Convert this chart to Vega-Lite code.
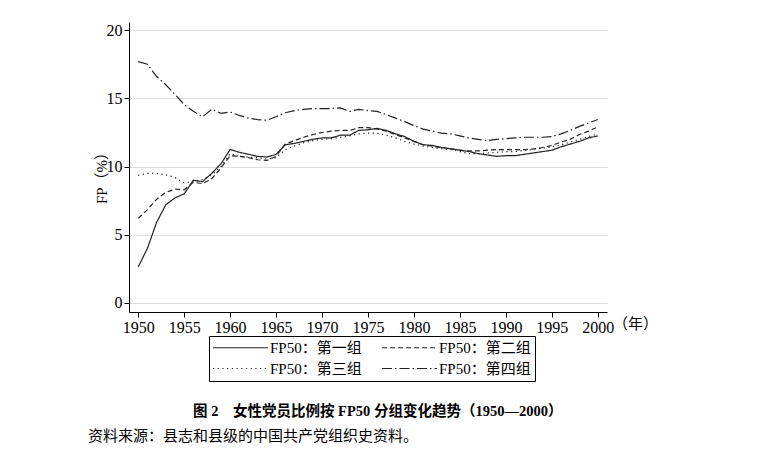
{
  "$schema": "https://vega.github.io/schema/vega-lite/v6.json",
  "width": 478,
  "height": 290,
  "autosize": {"type": "none"},
  "padding": {"left": 129, "top": 22, "right": 155, "bottom": 142},
  "background": "white",
  "config": {"view": {"stroke": null}},
  "title": {
    "text": "\u200b　　　　　　　  图 2　女性党员比例按 FP50 分组变化趋势（1950—2000）",
    "subtitle": "资料来源：县志和县级的中国共产党组织史资料。",
    "orient": "bottom",
    "anchor": "start",
    "frame": "group",
    "align": "left",
    "dx": -41,
    "offset": 23,
    "font": "Liberation Serif, Noto Sans CJK SC",
    "fontSize": 14.5,
    "fontWeight": "bold",
    "color": "black",
    "subtitleFont": "Liberation Serif, Noto Sans CJK SC",
    "subtitleFontSize": 15,
    "subtitleColor": "black",
    "subtitlePadding": 10
  },
  "data": {
    "values": [
      {"year":1950,"group":"FP50：第一组","value":2.64},{"year":1951,"group":"FP50：第一组","value":4.0},{"year":1952,"group":"FP50：第一组","value":5.9},{"year":1953,"group":"FP50：第一组","value":7.2},{"year":1954,"group":"FP50：第一组","value":7.7},{"year":1955,"group":"FP50：第一组","value":8.0},{"year":1956,"group":"FP50：第一组","value":9.0},{"year":1957,"group":"FP50：第一组","value":8.9},{"year":1958,"group":"FP50：第一组","value":9.5},{"year":1959,"group":"FP50：第一组","value":10.2},
      {"year":1960,"group":"FP50：第一组","value":11.25},{"year":1961,"group":"FP50：第一组","value":11.05},{"year":1962,"group":"FP50：第一组","value":10.9},{"year":1963,"group":"FP50：第一组","value":10.75},{"year":1964,"group":"FP50：第一组","value":10.7},{"year":1965,"group":"FP50：第一组","value":10.9},{"year":1966,"group":"FP50：第一组","value":11.6},{"year":1967,"group":"FP50：第一组","value":11.7},{"year":1968,"group":"FP50：第一组","value":11.85},{"year":1969,"group":"FP50：第一组","value":12.0},
      {"year":1970,"group":"FP50：第一组","value":12.1},{"year":1971,"group":"FP50：第一组","value":12.1},{"year":1972,"group":"FP50：第一组","value":12.3},{"year":1973,"group":"FP50：第一组","value":12.3},{"year":1974,"group":"FP50：第一组","value":12.65},{"year":1975,"group":"FP50：第一组","value":12.7},{"year":1976,"group":"FP50：第一组","value":12.8},{"year":1977,"group":"FP50：第一组","value":12.65},{"year":1978,"group":"FP50：第一组","value":12.4},{"year":1979,"group":"FP50：第一组","value":12.2},
      {"year":1980,"group":"FP50：第一组","value":11.85},{"year":1981,"group":"FP50：第一组","value":11.6},{"year":1982,"group":"FP50：第一组","value":11.55},{"year":1983,"group":"FP50：第一组","value":11.4},{"year":1984,"group":"FP50：第一组","value":11.3},{"year":1985,"group":"FP50：第一组","value":11.2},{"year":1986,"group":"FP50：第一组","value":11.1},{"year":1987,"group":"FP50：第一组","value":10.95},{"year":1988,"group":"FP50：第一组","value":10.85},{"year":1989,"group":"FP50：第一组","value":10.75},
      {"year":1990,"group":"FP50：第一组","value":10.8},{"year":1991,"group":"FP50：第一组","value":10.8},{"year":1992,"group":"FP50：第一组","value":10.9},{"year":1993,"group":"FP50：第一组","value":11.0},{"year":1994,"group":"FP50：第一组","value":11.1},{"year":1995,"group":"FP50：第一组","value":11.2},{"year":1996,"group":"FP50：第一组","value":11.45},{"year":1997,"group":"FP50：第一组","value":11.65},{"year":1998,"group":"FP50：第一组","value":11.85},{"year":1999,"group":"FP50：第一组","value":12.1},{"year":2000,"group":"FP50：第一组","value":12.25},

      {"year":1950,"group":"FP50：第二组","value":6.2},{"year":1951,"group":"FP50：第二组","value":6.85},{"year":1952,"group":"FP50：第二组","value":7.6},{"year":1953,"group":"FP50：第二组","value":8.1},{"year":1954,"group":"FP50：第二组","value":8.35},{"year":1955,"group":"FP50：第二组","value":8.3},{"year":1956,"group":"FP50：第二组","value":8.85},{"year":1957,"group":"FP50：第二组","value":8.75},{"year":1958,"group":"FP50：第二组","value":9.1},{"year":1959,"group":"FP50：第二组","value":9.9},
      {"year":1960,"group":"FP50：第二组","value":10.8},{"year":1961,"group":"FP50：第二组","value":10.75},{"year":1962,"group":"FP50：第二组","value":10.65},{"year":1963,"group":"FP50：第二组","value":10.5},{"year":1964,"group":"FP50：第二组","value":10.45},{"year":1965,"group":"FP50：第二组","value":10.75},{"year":1966,"group":"FP50：第二组","value":11.65},{"year":1967,"group":"FP50：第二组","value":11.9},{"year":1968,"group":"FP50：第二组","value":12.15},{"year":1969,"group":"FP50：第二组","value":12.35},
      {"year":1970,"group":"FP50：第二组","value":12.5},{"year":1971,"group":"FP50：第二组","value":12.6},{"year":1972,"group":"FP50：第二组","value":12.65},{"year":1973,"group":"FP50：第二组","value":12.65},{"year":1974,"group":"FP50：第二组","value":12.85},{"year":1975,"group":"FP50：第二组","value":12.85},{"year":1976,"group":"FP50：第二组","value":12.75},{"year":1977,"group":"FP50：第二组","value":12.6},{"year":1978,"group":"FP50：第二组","value":12.35},{"year":1979,"group":"FP50：第二组","value":12.1},
      {"year":1980,"group":"FP50：第二组","value":11.85},{"year":1981,"group":"FP50：第二组","value":11.6},{"year":1982,"group":"FP50：第二组","value":11.5},{"year":1983,"group":"FP50：第二组","value":11.4},{"year":1984,"group":"FP50：第二组","value":11.3},{"year":1985,"group":"FP50：第二组","value":11.2},{"year":1986,"group":"FP50：第二组","value":11.15},{"year":1987,"group":"FP50：第二组","value":11.15},{"year":1988,"group":"FP50：第二组","value":11.2},{"year":1989,"group":"FP50：第二组","value":11.25},
      {"year":1990,"group":"FP50：第二组","value":11.25},{"year":1991,"group":"FP50：第二组","value":11.25},{"year":1992,"group":"FP50：第二组","value":11.25},{"year":1993,"group":"FP50：第二组","value":11.3},{"year":1994,"group":"FP50：第二组","value":11.4},{"year":1995,"group":"FP50：第二组","value":11.55},{"year":1996,"group":"FP50：第二组","value":11.8},{"year":1997,"group":"FP50：第二组","value":12.0},{"year":1998,"group":"FP50：第二组","value":12.35},{"year":1999,"group":"FP50：第二组","value":12.6},{"year":2000,"group":"FP50：第二组","value":12.9},

      {"year":1950,"group":"FP50：第三组","value":9.35},{"year":1951,"group":"FP50：第三组","value":9.5},{"year":1952,"group":"FP50：第三组","value":9.5},{"year":1953,"group":"FP50：第三组","value":9.4},{"year":1954,"group":"FP50：第三组","value":9.2},{"year":1955,"group":"FP50：第三组","value":8.8},{"year":1956,"group":"FP50：第三组","value":8.9},{"year":1957,"group":"FP50：第三组","value":9.05},{"year":1958,"group":"FP50：第三组","value":9.4},{"year":1959,"group":"FP50：第三组","value":10.0},
      {"year":1960,"group":"FP50：第三组","value":10.95},{"year":1961,"group":"FP50：第三组","value":10.75},{"year":1962,"group":"FP50：第三组","value":10.7},{"year":1963,"group":"FP50：第三组","value":10.65},{"year":1964,"group":"FP50：第三组","value":10.55},{"year":1965,"group":"FP50：第三组","value":10.65},{"year":1966,"group":"FP50：第三组","value":11.25},{"year":1967,"group":"FP50：第三组","value":11.5},{"year":1968,"group":"FP50：第三组","value":11.75},{"year":1969,"group":"FP50：第三组","value":11.9},
      {"year":1970,"group":"FP50：第三组","value":12.0},{"year":1971,"group":"FP50：第三组","value":12.05},{"year":1972,"group":"FP50：第三组","value":12.15},{"year":1973,"group":"FP50：第三组","value":12.25},{"year":1974,"group":"FP50：第三组","value":12.4},{"year":1975,"group":"FP50：第三组","value":12.45},{"year":1976,"group":"FP50：第三组","value":12.45},{"year":1977,"group":"FP50：第三组","value":12.3},{"year":1978,"group":"FP50：第三组","value":12.1},{"year":1979,"group":"FP50：第三组","value":11.85},
      {"year":1980,"group":"FP50：第三组","value":11.65},{"year":1981,"group":"FP50：第三组","value":11.5},{"year":1982,"group":"FP50：第三组","value":11.4},{"year":1983,"group":"FP50：第三组","value":11.3},{"year":1984,"group":"FP50：第三组","value":11.25},{"year":1985,"group":"FP50：第三组","value":11.1},{"year":1986,"group":"FP50：第三组","value":10.95},{"year":1987,"group":"FP50：第三组","value":10.95},{"year":1988,"group":"FP50：第三组","value":11.0},{"year":1989,"group":"FP50：第三组","value":11.05},
      {"year":1990,"group":"FP50：第三组","value":11.1},{"year":1991,"group":"FP50：第三组","value":11.1},{"year":1992,"group":"FP50：第三组","value":11.2},{"year":1993,"group":"FP50：第三组","value":11.25},{"year":1994,"group":"FP50：第三组","value":11.35},{"year":1995,"group":"FP50：第三组","value":11.45},{"year":1996,"group":"FP50：第三组","value":11.6},{"year":1997,"group":"FP50：第三组","value":11.8},{"year":1998,"group":"FP50：第三组","value":12.0},{"year":1999,"group":"FP50：第三组","value":12.2},{"year":2000,"group":"FP50：第三组","value":12.4},

      {"year":1950,"group":"FP50：第四组","value":17.7},{"year":1951,"group":"FP50：第四组","value":17.5},{"year":1952,"group":"FP50：第四组","value":16.6},{"year":1953,"group":"FP50：第四组","value":16.0},{"year":1954,"group":"FP50：第四组","value":15.3},{"year":1955,"group":"FP50：第四组","value":14.55},{"year":1956,"group":"FP50：第四组","value":14.05},{"year":1957,"group":"FP50：第四组","value":13.65},{"year":1958,"group":"FP50：第四组","value":14.2},{"year":1959,"group":"FP50：第四组","value":13.9},
      {"year":1960,"group":"FP50：第四组","value":14.0},{"year":1961,"group":"FP50：第四组","value":13.75},{"year":1962,"group":"FP50：第四组","value":13.55},{"year":1963,"group":"FP50：第四组","value":13.45},{"year":1964,"group":"FP50：第四组","value":13.4},{"year":1965,"group":"FP50：第四组","value":13.65},{"year":1966,"group":"FP50：第四组","value":13.95},{"year":1967,"group":"FP50：第四组","value":14.1},{"year":1968,"group":"FP50：第四组","value":14.2},{"year":1969,"group":"FP50：第四组","value":14.25},
      {"year":1970,"group":"FP50：第四组","value":14.25},{"year":1971,"group":"FP50：第四组","value":14.25},{"year":1972,"group":"FP50：第四组","value":14.3},{"year":1973,"group":"FP50：第四组","value":14.05},{"year":1974,"group":"FP50：第四组","value":14.2},{"year":1975,"group":"FP50：第四组","value":14.1},{"year":1976,"group":"FP50：第四组","value":14.05},{"year":1977,"group":"FP50：第四组","value":13.8},{"year":1978,"group":"FP50：第四组","value":13.55},{"year":1979,"group":"FP50：第四组","value":13.3},
      {"year":1980,"group":"FP50：第四组","value":13.0},{"year":1981,"group":"FP50：第四组","value":12.75},{"year":1982,"group":"FP50：第四组","value":12.6},{"year":1983,"group":"FP50：第四组","value":12.45},{"year":1984,"group":"FP50：第四组","value":12.4},{"year":1985,"group":"FP50：第四组","value":12.25},{"year":1986,"group":"FP50：第四组","value":12.1},{"year":1987,"group":"FP50：第四组","value":12.0},{"year":1988,"group":"FP50：第四组","value":11.9},{"year":1989,"group":"FP50：第四组","value":12.0},
      {"year":1990,"group":"FP50：第四组","value":12.05},{"year":1991,"group":"FP50：第四组","value":12.1},{"year":1992,"group":"FP50：第四组","value":12.15},{"year":1993,"group":"FP50：第四组","value":12.15},{"year":1994,"group":"FP50：第四组","value":12.15},{"year":1995,"group":"FP50：第四组","value":12.2},{"year":1996,"group":"FP50：第四组","value":12.4},{"year":1997,"group":"FP50：第四组","value":12.65},{"year":1998,"group":"FP50：第四组","value":12.95},{"year":1999,"group":"FP50：第四组","value":13.2},{"year":2000,"group":"FP50：第四组","value":13.45}
    ]
  },
  "mark": {"type": "line", "strokeWidth": 1.2, "color": "#222222"},
  "encoding": {
    "x": {
      "field": "year",
      "type": "quantitative",
      "scale": {"domain": [1949, 2001], "nice": false, "zero": false},
      "axis": {
        "values": [1950, 1955, 1960, 1965, 1970, 1975, 1980, 1985, 1990, 1995, 2000],
        "format": "d",
        "grid": false,
        "labelFont": "Liberation Serif",
        "labelFontSize": 16,
        "labelColor": "black",
        "labelPadding": 2,
        "labelFlush": false,
        "labelOverlap": false,
        "tickColor": "black",
        "tickSize": 5,
        "domainColor": "black",
        "title": "（年）",
        "titleFont": "Noto Sans CJK SC",
        "titleFontSize": 15,
        "titleFontWeight": "normal",
        "titleColor": "black",
        "titleX": 506,
        "titleY": 11,
        "titleAlign": "center",
        "titleBaseline": "middle"
      }
    },
    "y": {
      "field": "value",
      "type": "quantitative",
      "scale": {"domain": [-0.66, 20.6], "nice": false, "zero": false},
      "axis": {
        "values": [0, 5, 10, 15, 20],
        "grid": true,
        "gridColor": "#dddddd",
        "labelFont": "Liberation Serif",
        "labelFontSize": 16,
        "labelColor": "black",
        "labelPadding": 2,
        "labelFlush": false,
        "tickColor": "black",
        "tickSize": 5,
        "domainColor": "black",
        "title": "FP（%）",
        "titleFont": "Liberation Serif, Noto Sans CJK SC",
        "titleFontSize": 15,
        "titleFontWeight": "normal",
        "titleColor": "black",
        "titleAngle": 270,
        "titleX": -28,
        "titleY": 152,
        "titleAlign": "center",
        "titleBaseline": "middle"
      }
    },
    "strokeDash": {
      "field": "group",
      "type": "nominal",
      "scale": {
        "domain": ["FP50：第一组", "FP50：第二组", "FP50：第三组", "FP50：第四组"],
        "range": [[1, 0], [5, 3], [1.2, 3.5], [10, 3, 1.5, 3]]
      },
      "legend": {
        "orient": "none",
        "legendX": 80,
        "legendY": 314,
        "columns": 2,
        "direction": "horizontal",
        "title": null,
        "symbolType": "M-1.15,0H7.3",
        "symbolSize": 169,
        "symbolStrokeWidth": 1.2,
        "symbolStrokeColor": "#222222",
        "labelFont": "Liberation Serif, Noto Sans CJK SC",
        "labelFontSize": 15,
        "labelColor": "black",
        "labelOffset": 42,
        "labelLimit": 200,
        "strokeColor": "black",
        "padding": 4,
        "columnPadding": 17,
        "rowPadding": 5
      }
    }
  }
}
